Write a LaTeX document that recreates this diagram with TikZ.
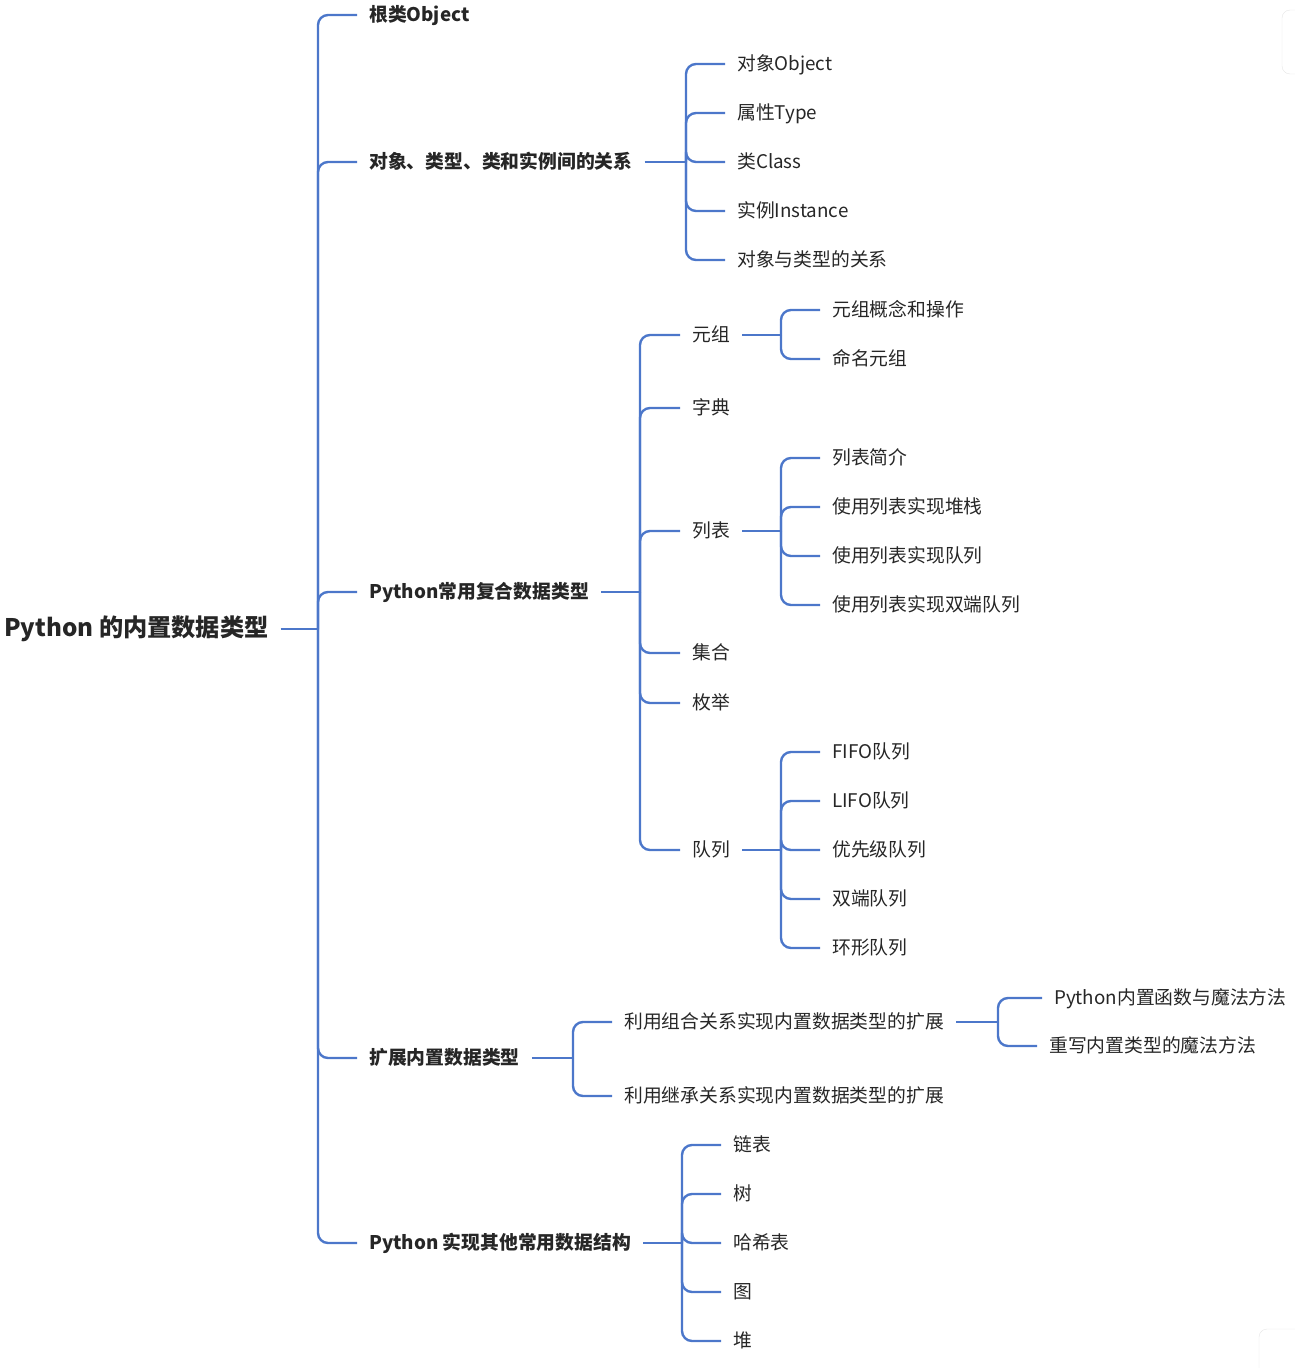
\documentclass[tikz,border=0pt]{standalone}
\usepackage{fontspec}
\setmainfont{Noto Sans CJK SC}
\usetikzlibrary{positioning,calc}
\definecolor{branchblue}{RGB}{76,119,202}
\definecolor{inkgray}{RGB}{38,38,38}

\begin{document}
\begin{tikzpicture}[x=1pt, y=-1pt,
  topic/.style={anchor=west, inner xsep=12pt, inner ysep=0pt, text=inkgray,
    text height=1.27em, text depth=0em},
  root/.style={topic, text height=1.4em, font=\fontsize{24.2}{28}\selectfont\bfseries},
  major/.style={topic, font=\fontsize{18.8}{22}\selectfont\bfseries},
  minor/.style={topic, font=\fontsize{18.8}{22}\selectfont},
  link/.style={draw=branchblue, line width=2.4pt, rounded corners=10pt}
]
  \useasboundingbox (0,0) rectangle (1294,1368);
  % faint side widgets of the screenshot
  \draw[black!10, fill=white, rounded corners=8pt] (1282,10) rectangle (1310,74);
  \draw[black!10, fill=white, rounded corners=8pt] (1259,1329) rectangle (1310,1390);

  % root and first level
  \node[root] (py) at (-8,629) {Python 的内置数据类型};
  \node[major] (obj) at (357,15) {根类Object};
  \node[major] (rel) at (357,162) {对象、类型、类和实例间的关系};
  \node[major] (comp) at (357,592) {Python常用复合数据类型};
  \node[major] (ext) at (357,1058) {扩展内置数据类型};
  \node[major] (other) at (357,1243) {Python 实现其他常用数据结构};
  \coordinate (py-j) at (318,629);
  \draw[link] (py.east) -- (py-j);
  \foreach \c in {obj,rel,comp,ext,other}
    \draw[link] (py-j) |- (\c.west);

  % relations
  \node[minor] (rel-a) at (725,64) {对象Object};
  \node[minor] (rel-b) at (725,113) {属性Type};
  \node[minor] (rel-c) at (725,162) {类Class};
  \node[minor] (rel-d) at (725,211) {实例Instance};
  \node[minor] (rel-e) at (725,260) {对象与类型的关系};
  \coordinate (rel-j) at (686,162);
  \draw[link] (rel.east) -- (rel-j);
  \foreach \c in {rel-a,rel-b,rel-c,rel-d,rel-e}
    \draw[link] (rel-j) |- (\c.west);

  % compound types
  \node[minor] (tup) at (680,335) {元组};
  \node[minor] (dict) at (680,408) {字典};
  \node[minor] (list) at (680,531) {列表};
  \node[minor] (set) at (680,653) {集合};
  \node[minor] (enum) at (680,703) {枚举};
  \node[minor] (queue) at (680,850) {队列};
  \coordinate (comp-j) at (640,592);
  \draw[link] (comp.east) -- (comp-j);
  \foreach \c in {tup,dict,list,set,enum,queue}
    \draw[link] (comp-j) |- (\c.west);

  \node[minor] (tup-a) at (820,310) {元组概念和操作};
  \node[minor] (tup-b) at (820,359) {命名元组};
  \coordinate (tup-j) at (781,335);
  \draw[link] (tup.east) -- (tup-j);
  \foreach \c in {tup-a,tup-b}
    \draw[link] (tup-j) |- (\c.west);

  \node[minor] (list-a) at (820,458) {列表简介};
  \node[minor] (list-b) at (820,507) {使用列表实现堆栈};
  \node[minor] (list-c) at (820,556) {使用列表实现队列};
  \node[minor] (list-d) at (820,605) {使用列表实现双端队列};
  \coordinate (list-j) at (781,531);
  \draw[link] (list.east) -- (list-j);
  \foreach \c in {list-a,list-b,list-c,list-d}
    \draw[link] (list-j) |- (\c.west);

  \node[minor] (queue-a) at (820,752) {FIFO队列};
  \node[minor] (queue-b) at (820,801) {LIFO队列};
  \node[minor] (queue-c) at (820,850) {优先级队列};
  \node[minor] (queue-d) at (820,899) {双端队列};
  \node[minor] (queue-e) at (820,948) {环形队列};
  \coordinate (queue-j) at (781,850);
  \draw[link] (queue.east) -- (queue-j);
  \foreach \c in {queue-a,queue-b,queue-c,queue-d,queue-e}
    \draw[link] (queue-j) |- (\c.west);

  % extending built-in types
  \node[minor] (ext-a) at (612,1022) {利用组合关系实现内置数据类型的扩展};
  \node[minor] (ext-b) at (612,1096) {利用继承关系实现内置数据类型的扩展};
  \coordinate (ext-j) at (573,1058);
  \draw[link] (ext.east) -- (ext-j);
  \foreach \c in {ext-a,ext-b}
    \draw[link] (ext-j) |- (\c.west);

  \node[minor] (magic-a) at (1042,998) {Python内置函数与魔法方法};
  \node[minor] (magic-b) at (1037,1046) {重写内置类型的魔法方法};
  \coordinate (magic-j) at (998,1022);
  \draw[link] (ext-a.east) -- (magic-j);
  \foreach \c in {magic-a,magic-b}
    \draw[link] (magic-j) |- (\c.west);

  % other structures
  \node[minor] (oth-a) at (721,1145) {链表};
  \node[minor] (oth-b) at (721,1194) {树};
  \node[minor] (oth-c) at (721,1243) {哈希表};
  \node[minor] (oth-d) at (721,1292) {图};
  \node[minor] (oth-e) at (721,1341) {堆};
  \coordinate (other-j) at (682,1243);
  \draw[link] (other.east) -- (other-j);
  \foreach \c in {oth-a,oth-b,oth-c,oth-d,oth-e}
    \draw[link] (other-j) |- (\c.west);
\end{tikzpicture}
\end{document}
